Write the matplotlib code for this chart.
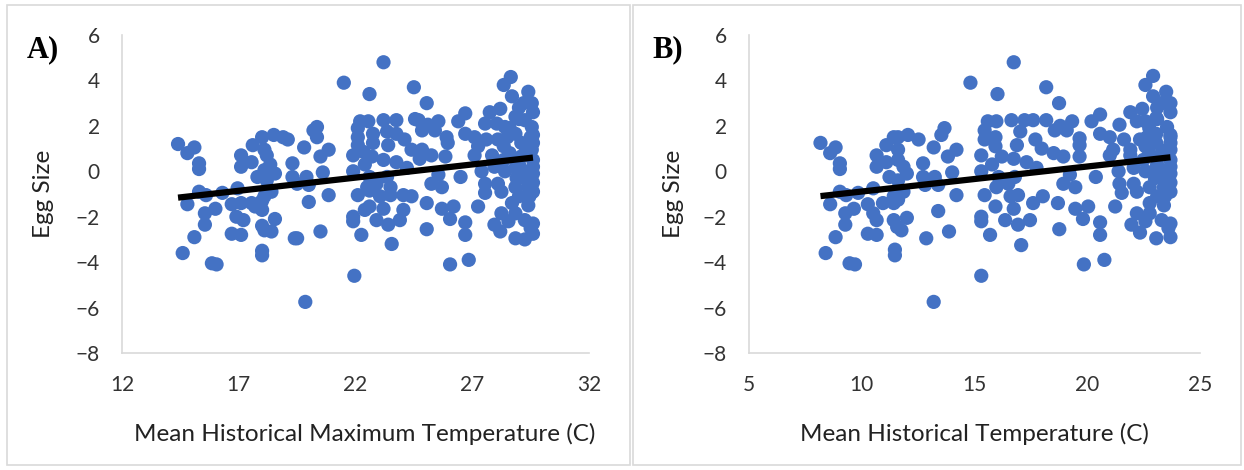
import numpy as np
import matplotlib.pyplot as plt
from matplotlib.patches import Rectangle

# panel A: mean historical maximum temperature vs egg size
max_temp = [14.4, 14.8, 15.1, 15.3, 15.3, 15.3, 15.6, 14.8, 15.55, 16.0, 15.55, 15.1, 14.6, 15.85, 16.05,
            16.3, 16.7, 16.95, 17.1, 17.1, 17.55, 17.6, 18.0, 18.5, 18.9, 19.1, 18.1, 18.2, 18.35, 18.1,
            18.55, 17.8, 18.2, 19.3, 19.3, 18.4, 18.1, 18.0, 17.55, 17.1, 18.0, 17.7, 16.9, 17.2, 18.55,
            18.0, 18.1, 18.4, 16.7, 17.1, 18.0, 18.0, 19.4,
            23.2, 21.5, 22.6, 24.5, 20.2, 20.35, 20.35, 19.8, 20.85, 20.5, 20.6, 19.9, 19.5, 20.0, 20.85,
            20.0, 19.5, 20.5, 21.95, 19.85,
            22.2, 22.55, 22.1, 22.1, 22.1, 22.75, 22.75, 23.2, 23.75, 23.35, 23.75, 23.4, 24.55, 24.1, 24.4,
            21.9, 22.35, 22.7, 22.4, 23.2, 23.75, 24.2, 21.9, 22.6, 23.35, 22.9, 22.5, 23.5, 22.1, 22.6,
            23.05, 23.5, 24.05, 24.4, 22.6, 22.4, 23.2, 24.05, 21.9, 21.9, 22.9, 23.4, 23.9, 22.25, 23.55,
            25.05, 28.65, 28.35, 28.7, 29.55, 29.2, 28.2, 27.75, 26.7, 26.4, 25.55, 25.1, 24.7, 24.85, 25.4,
            25.9, 25.95, 26.7, 27.1, 27.55, 28.05, 28.4, 28.85, 29.25, 29.55, 29.5, 28.85, 28.1, 27.6, 27.25,
            27.1, 28.35, 29.1, 29.55, 29.6, 29.1, 28.35, 27.85, 24.85, 25.25, 24.75, 25.85, 27.4, 27.95, 28.4,
            28.85, 29.6, 29.25, 26.5, 25.55, 25.25, 25.7, 25.05, 25.7, 26.2, 26.05, 27.25, 27.55, 27.55, 28.1,
            28.25, 28.85, 29.4, 29.45, 28.7, 29.4, 28.85, 28.25, 27.95, 28.2, 28.55, 29.25, 29.6, 29.6, 28.85,
            29.25, 25.05, 26.7, 26.7, 26.05, 26.85,
            29.6, 29.6, 29.6, 29.6, 29.6, 29.6, 29.4, 29.5, 29.3, 29.3, 29.0, 29.0, 29.0, 28.6, 28.6,
            28.5, 29.0, 28.9]
egg_a = [1.2, 0.8, 1.05, 0.35, 0.1, -0.9, -1.05, -1.45, -1.85, -1.65, -2.35, -2.9, -3.6, -4.05, -4.1,
         -0.95, -1.45, -0.75, 0.7, 0.2, 0.4, 1.15, 1.5, 1.6, 1.5, 1.4, 0.95, 0.7, 0.3, 0.05,
         -0.1, -0.25, -0.4, 0.35, -0.25, -0.9, -1.1, -1.3, -1.4, -1.4, -1.7, -1.55, -2.0, -2.15, -2.1,
         -2.4, -2.6, -2.65, -2.75, -2.8, -3.5, -3.7, -2.95,
         4.8, 3.9, 3.4, 3.7, 1.8, 1.95, 1.5, 1.05, 0.95, 0.65, -0.05, -0.25, -0.55, -0.6, -1.05,
         -1.35, -2.95, -2.65, -4.6, -5.75,
         2.2, 2.2, 1.9, 1.5, 1.15, 1.65, 1.25, 2.25, 2.25, 1.75, 1.65, 1.15, 2.3, 1.4, 0.95,
         0.7, 0.85, 0.65, 0.3, 0.5, 0.4, 0.15, 0.0, -0.25, -0.25, -0.55, -0.7, -0.7, -1.05, -0.85,
         -1.1, -1.05, -1.05, -1.1, -1.55, -1.7, -1.65, -1.7, -2.0, -2.2, -2.15, -2.35, -2.15, -2.8, -3.2,
         3.0, 4.15, 3.8, 3.3, 3.0, 3.0, 2.75, 2.6, 2.55, 2.2, 2.2, 2.05, 2.25, 1.8, 1.8,
         1.5, 1.25, 1.65, 1.5, 2.1, 2.1, 1.95, 2.4, 2.25, 1.95, 1.5, 1.65, 1.4, 1.4, 1.1,
         0.7, 1.1, 1.25, 0.95, 0.5, 0.65, 0.5, 0.7, 0.95, 0.7, 0.55, 0.65, 0.0, 0.2, 0.0,
         0.15, -0.1, -0.3, -0.25, -0.15, -0.55, -0.7, -1.4, -1.65, -1.55, -2.1, -1.55, -0.55, -0.95, -0.55,
         -0.9, -0.7, -0.7, -1.1, -1.4, -1.5, -1.85, -1.85, -2.35, -2.65, -2.2, -2.15, -2.3, -2.75, -2.95,
         -3.0, -2.55, -2.25, -2.8, -4.1, -3.9,
         1.6, 1.25, 0.2, -0.5, -0.9, 2.6, 3.5, -2.5, -0.05, 0.9, 0.3, -1.1, 2.3, 1.9, 0.8,
         1.5, 2.8, -0.3]

# panel B: mean historical temperature vs egg size
mean_temp = [8.17, 8.6, 8.84, 9.03, 9.03, 9.03, 9.31, 8.6, 9.27, 9.65, 9.27, 8.84, 8.4, 9.46, 9.7,
             9.84, 10.27, 10.51, 10.66, 10.66, 11.09, 11.09, 11.42, 10.51, 10.66, 10.27, 10.66, 11.42, 11.47, 11.47,
             11.23, 11.42, 11.42, 10.94, 11.57,
             16.74, 14.82, 16.02, 11.61, 12.05, 12.52, 11.61, 11.61, 11.85, 12.0, 11.61, 11.85, 11.61, 12.0, 11.76,
             13.67, 13.53, 13.19, 14.2, 13.82, 12.72, 14.01, 13.24, 12.72, 12.81, 13.39, 14.2, 13.39, 12.86, 13.87,
             15.3, 13.19,
             15.59, 15.97, 15.45, 15.45, 15.93, 16.64, 17.22, 17.03, 16.88, 15.93, 15.3, 15.78, 16.21, 16.74, 17.31,
             15.3, 16.07, 16.79, 16.5, 15.97, 15.45, 16.6, 16.93, 15.93, 16.74, 15.3, 15.3, 16.36, 16.93, 17.46,
             15.69, 17.07,
             18.18, 18.75, 22.92, 22.58, 22.92, 23.69, 23.3, 22.44, 21.91, 20.57, 20.19, 19.33, 18.8, 18.18, 17.6,
             17.7, 17.98, 18.56, 19.09, 19.66, 19.66, 20.57, 21.0, 21.43, 22.2, 22.58, 23.06, 23.54, 23.69, 23.06,
             22.34, 21.63, 21.15, 21.0, 21.91, 22.58, 23.06, 23.69, 23.69, 23.16, 22.49, 21.91, 18.51, 18.94, 19.66,
             17.75, 21.39, 22.06, 22.58, 23.06, 23.69, 23.4, 20.38, 19.23, 18.94, 19.47, 18.03, 17.6, 18.7, 19.47,
             20.04, 19.81, 21.24, 21.43, 21.53, 22.06, 22.2, 22.77, 23.4, 23.45, 22.77, 23.4, 22.77, 22.2, 21.96,
             22.34, 22.58, 23.3, 23.69, 23.69, 23.06, 18.76, 20.57, 20.57, 19.85, 20.76,
             23.69, 23.69, 23.69, 23.69, 23.69, 23.69, 23.5, 23.6, 23.4, 23.4, 23.1, 23.1, 23.1, 22.75, 22.75,
             22.65, 23.1, 23.0]
egg_b = [1.25, 0.8, 1.05, 0.35, 0.1, -0.9, -1.05, -1.45, -1.85, -1.65, -2.35, -2.9, -3.6, -4.05, -4.1,
         -0.95, -1.45, -0.75, 0.7, 0.2, 0.4, 1.15, 1.5, -1.85, -2.15, -2.75, -2.8, -2.15, -3.45, -3.7,
         -0.25, -1.1, -1.4, -1.4, -2.45,
         4.8, 3.9, 3.4, 1.5, 1.6, 1.4, 0.95, 0.5, 0.2, -0.1, -0.4, -0.9, -1.25, -2.05, -2.6,
         1.9, 1.6, 1.05, 0.95, 0.65, 0.35, -0.05, -0.25, -0.25, -0.6, -0.6, -1.05, -1.75, -2.95, -2.65,
         -4.6, -5.75,
         2.2, 2.2, 1.8, 1.4, 1.5, 2.25, 2.25, 1.75, 1.15, 1.1, 0.7, 0.3, 0.65, 0.55, 0.4,
         0.0, -0.25, -0.25, -0.55, -0.7, -1.05, -1.1, -1.05, -1.55, -1.65, -2.0, -2.2, -2.15, -2.35, -2.15,
         -2.8, -3.25,
         3.7, 3.0, 4.2, 3.8, 3.3, 3.0, 3.0, 2.75, 2.6, 2.5, 2.2, 2.2, 2.0, 2.25, 2.25,
         1.4, 1.0, 1.8, 1.8, 1.45, 1.15, 1.65, 1.5, 2.05, 2.2, 2.2, 2.35, 1.95, 1.5, 1.65,
         1.4, 1.4, 0.95, 0.7, 0.95, 1.1, 1.25, 0.95, 0.5, 0.65, 0.5, 0.7, 0.8, 0.65, 0.65,
         0.15, 0.0, 0.15, 0.0, 0.15, -0.1, -0.3, -0.25, -0.15, -0.55, -0.7, -1.1, -1.4, -1.4, -1.65,
         -1.55, -2.1, -1.55, -0.55, -0.95, -0.55, -0.9, -0.7, -0.7, -1.1, -1.4, -1.5, -1.85, -1.85, -2.35,
         -2.7, -2.2, -2.15, -2.3, -2.9, -2.95, -2.55, -2.25, -2.8, -4.1, -3.9,
         1.6, 1.25, 0.2, -0.5, -0.9, 2.6, 3.5, -2.5, -0.05, 0.9, 0.3, -1.1, 2.3, 1.9, 0.8,
         1.5, 2.8, -0.3]

panels = [(max_temp, egg_a, (12, 32), [12, 17, 22, 27, 32], 'Mean Historical Maximum Temperature (C)', 'A)'),
          (mean_temp, egg_b, (5, 25), [5, 10, 15, 20, 25], 'Mean Historical Temperature (C)', 'B)')]

plt.rcParams['font.family'] = ['Lato', 'DejaVu Sans']
fig = plt.figure(figsize=(12.44, 4.7), dpi=100)

# light grey frames round each chart
fig.patches.append(Rectangle((7/1244, 5/470), 623/1244, 460/470, transform=fig.transFigure,
                             fill=False, ec='#d9d9d9', lw=1.2))
fig.patches.append(Rectangle((633/1244, 5/470), 608/1244, 460/470, transform=fig.transFigure,
                             fill=False, ec='#d9d9d9', lw=1.2))

lefts = [122/1244, 749/1244]
widths = [467/1244, 451/1244]
for i, (xs, ys, xlim, xt, xlab, tag) in enumerate(panels):
    ax = fig.add_axes([lefts[i], 1-353/470, widths[i], 318/470])
    ax.scatter(xs, ys, s=105, color='#4472c4', edgecolors='none', zorder=2)
    # linear trendline
    k, b = np.polyfit(xs, ys, 1)
    tx = np.array([min(xs), max(xs)])
    ax.plot(tx, k*tx + b, color='black', lw=4.5, zorder=3, solid_capstyle='butt')
    ax.set_xlim(xlim)
    ax.set_ylim(-8, 6)
    ax.set_xticks(xt)
    ax.set_yticks(range(-8, 7, 2))
    for s in ['top', 'right']:
        ax.spines[s].set_visible(False)
    for s in ['left', 'bottom']:
        ax.spines[s].set_color('#d9d9d9')
        ax.spines[s].set_linewidth(1.2)
    ax.tick_params(length=0, labelsize=15, colors='#333333', pad=16)
    ax.set_xlabel(xlab, fontsize=17.5, color='#222222')
    ax.set_ylabel('Egg Size', fontsize=17.5, color='#222222')
    ax.xaxis.set_label_coords(0.5 + (0.02 if i == 0 else 0.0), -0.22)
    ax.yaxis.set_label_coords(-0.145, 0.5)
    ax.text(-0.205 if i == 0 else -0.215, 1.0, tag, transform=ax.transAxes, fontsize=22,
            fontweight='bold', family='Liberation Serif', va='top', ha='left')

plt.savefig('out.png', dpi=100)
